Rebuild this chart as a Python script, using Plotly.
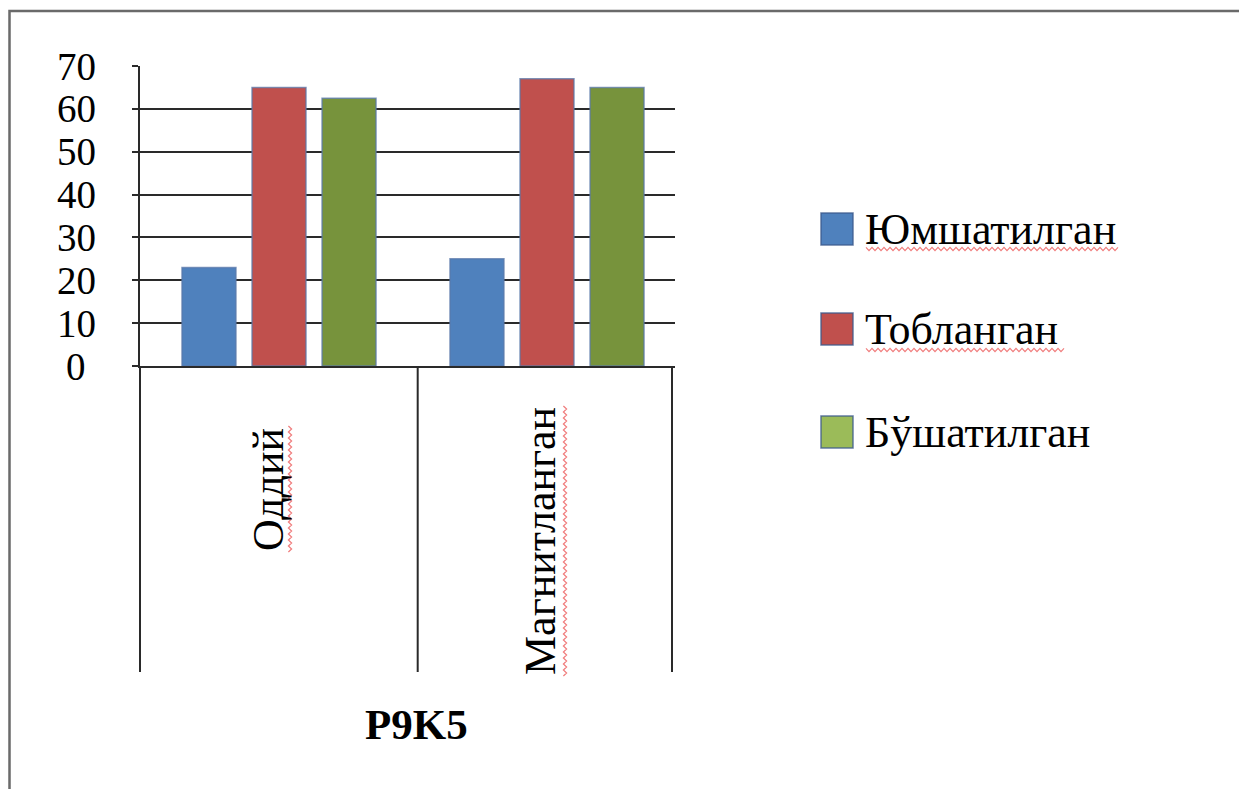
import plotly.graph_objects as go

# Categories and series values
categories = ["Оддий", "Магнитланган"]
series_names = ["Юмшатилган", "Тобланган", "Бўшатилган"]
yumshatilgan = [23, 25]
toblangan = [65, 67]
bushatilgan = [62.5, 65]
y_ticks = [0, 10, 20, 30, 40, 50, 60, 70]
axis_title = "P9K5"

bar_colors = ["#4F81BD", "#C0504D", "#77933C"]
swatch_colors = ["#4F81BD", "#C0504D", "#9BBB59"]
FONT = "Liberation Serif, Times New Roman, serif"

W, H = 1239, 789
# plot area in pixels
PL, PR, PT, PB = 140, 675, 66, 366


def xp(px):
    return (px - PL) / (PR - PL)


def yp(py):
    return (PB - py) / (PB - PT)


def squiggle(x0, y0, length, vertical=False, step=3.0, amp=1.6):
    """Wavy spell-check style underline as an SVG path in paper units."""
    pts = []
    n = int(length / step)
    for i in range(n + 1):
        d = i * step
        off = amp if i % 2 else -amp
        if vertical:
            pts.append((x0 + off, y0 - d))
        else:
            pts.append((x0 + d, y0 + off))
    return "M " + " L ".join(f"{xp(a):.5f},{yp(b):.5f}" for a, b in pts)


fig = go.Figure()
for name, vals, col in zip(series_names, [yumshatilgan, toblangan, bushatilgan], bar_colors):
    fig.add_trace(go.Bar(
        x=categories, y=vals, name=name,
        marker=dict(color=col, line=dict(color="rgba(90,120,170,0.75)", width=1.5)),
        showlegend=False,
    ))

fig.update_layout(
    width=W, height=H,
    margin=dict(l=PL, r=W - PR, t=PT, b=H - PB, pad=0),
    paper_bgcolor="white", plot_bgcolor="white",
    barmode="group", bargap=0.216, bargroupgap=0.229,
    font=dict(family=FONT, color="black"),
)
fig.update_xaxes(
    type="category", range=[-0.5187, 1.4776],
    showticklabels=False, ticks="",
    showline=True, linecolor="#2a2a2a", linewidth=2,
    showgrid=False, zeroline=False,
)
fig.update_yaxes(
    range=[0, 70], tickvals=y_ticks, showticklabels=False,
    ticks="outside", ticklen=6, tickwidth=2, tickcolor="#2a2a2a",
    showline=True, linecolor="#2a2a2a", linewidth=2,
    showgrid=True, gridcolor="#2a2a2a", gridwidth=2, zeroline=False,
)

# y tick labels, centred in their column
for v in y_ticks:
    fig.add_annotation(x=xp(76), xref="paper", y=v, yref="y", text=str(v),
                       showarrow=False, xanchor="center", yanchor="middle",
                       font=dict(family=FONT, size=39, color="black"))

# category separators below the axis
for px in [PL, 417.7, 672]:
    fig.add_shape(type="line", xref="paper", yref="paper",
                  x0=xp(px), x1=xp(px), y0=yp(PB), y1=yp(672),
                  line=dict(color="#2a2a2a", width=2))

# rotated category labels
cat_pos = [(268, 490), (540, 541)]
for cat, (cx, cy) in zip(categories, cat_pos):
    fig.add_annotation(x=xp(cx), xref="paper", y=yp(cy), yref="paper", text=cat,
                       textangle=-90, showarrow=False, xanchor="center", yanchor="middle",
                       font=dict(family=FONT, size=44, color="black"))

# axis title
fig.add_annotation(x=xp(416), xref="paper", y=yp(724), yref="paper",
                   text="<b>" + axis_title + "</b>", showarrow=False,
                   xanchor="center", yanchor="middle",
                   font=dict(family=FONT, size=43, color="black"))

# legend
leg_y = [229, 329, 432]
for name, col, cy in zip(series_names, swatch_colors, leg_y):
    fig.add_shape(type="rect", xref="paper", yref="paper",
                  x0=xp(821), x1=xp(853), y0=yp(cy - 16), y1=yp(cy + 16),
                  fillcolor=col, line=dict(color="rgba(60,90,140,0.8)", width=1.5))
    fig.add_annotation(x=xp(863), xref="paper", y=yp(cy), yref="paper", text=name,
                       showarrow=False, xanchor="left", yanchor="middle",
                       font=dict(family=FONT, size=44, color="black"))

# red wavy underlines under flagged words
marks = [
    (866, 249, 254, False),
    (866, 350, 199, False),
    (290, 552, 126, True),
    (565, 676, 272, True),
]
for x0, y0, length, vert in marks:
    fig.add_shape(type="path", xref="paper", yref="paper",
                  path=squiggle(x0, y0, length, vertical=vert),
                  line=dict(color="rgba(235,80,80,0.75)", width=1.2))

# chart frame
fig.add_shape(type="rect", xref="paper", yref="paper",
              x0=xp(9.5), x1=xp(1300), y0=yp(11), y1=yp(850),
              line=dict(color="#6a6a6a", width=2.5), layer="below")

fig.write_html("out.html")
